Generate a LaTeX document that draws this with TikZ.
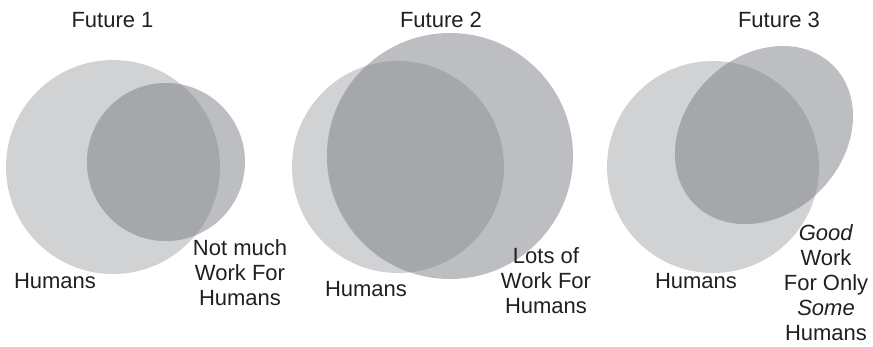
\documentclass[tikz,border=0pt]{standalone}
\usepackage{fontspec}
\setmainfont{Liberation Sans}
\definecolor{humansgray}{RGB}{209,210,212}
\definecolor{workgray}{RGB}{189,190,193}
\definecolor{bothgray}{RGB}{166,167,170}
\definecolor{inkgray}{RGB}{35,31,32}
\begin{document}
\begin{tikzpicture}[x=1pt,y=-1pt,
  humans/.style={fill=humansgray},
  work/.style={fill=workgray},
  both/.style={fill=bothgray},
  lbl/.style={font=\fontsize{22}{25}\selectfont, text=inkgray, inner sep=0pt, align=center, anchor=base},
]
\useasboundingbox (0,0) rectangle (873,346);

% Future 1: small work circle inside the humans circle
\fill[humans] (113,167) circle [radius=107];
\fill[work] (166,162) circle [radius=79];
\begin{scope}
  \clip (113,167) circle [radius=107];
  \fill[both] (166,162) circle [radius=79];
\end{scope}

% Future 2: large work circle
\fill[humans] (398,167) circle [radius=106];
\fill[work] (450,156) circle [radius=123];
\begin{scope}
  \clip (398,167) circle [radius=106];
  \fill[both] (450,156) circle [radius=123];
\end{scope}

% Future 3: tilted ellipse of good work
\fill[humans] (713,167) circle [radius=106];
\fill[work, rotate around={45:(764,135)}] (764,135) ellipse [x radius=98, y radius=79];
\begin{scope}
  \clip (713,167) circle [radius=106];
  \fill[both, rotate around={45:(764,135)}] (764,135) ellipse [x radius=98, y radius=79];
\end{scope}

% Titles
\node[lbl] (t1) at (112.5,27) {Future 1};
\node[lbl] (t2) at (441,27) {Future 2};
\node[lbl] (t3) at (779,27) {Future 3};

% Labels (base anchor sits on the last line)
\node[lbl] (h1) at (55,288) {Humans};
\node[lbl] (w1) at (240,305) {Not much\\Work For\\Humans};
\node[lbl] (h2) at (366,296) {Humans};
\node[lbl] (w2) at (546,313) {Lots of\\Work For\\Humans};
\node[lbl] (h3) at (696,288) {Humans};
\node[lbl] (w3) at (826,340) {\textit{Good}\\Work\\For Only\\\textit{Some}\\Humans};
\end{tikzpicture}
\end{document}
